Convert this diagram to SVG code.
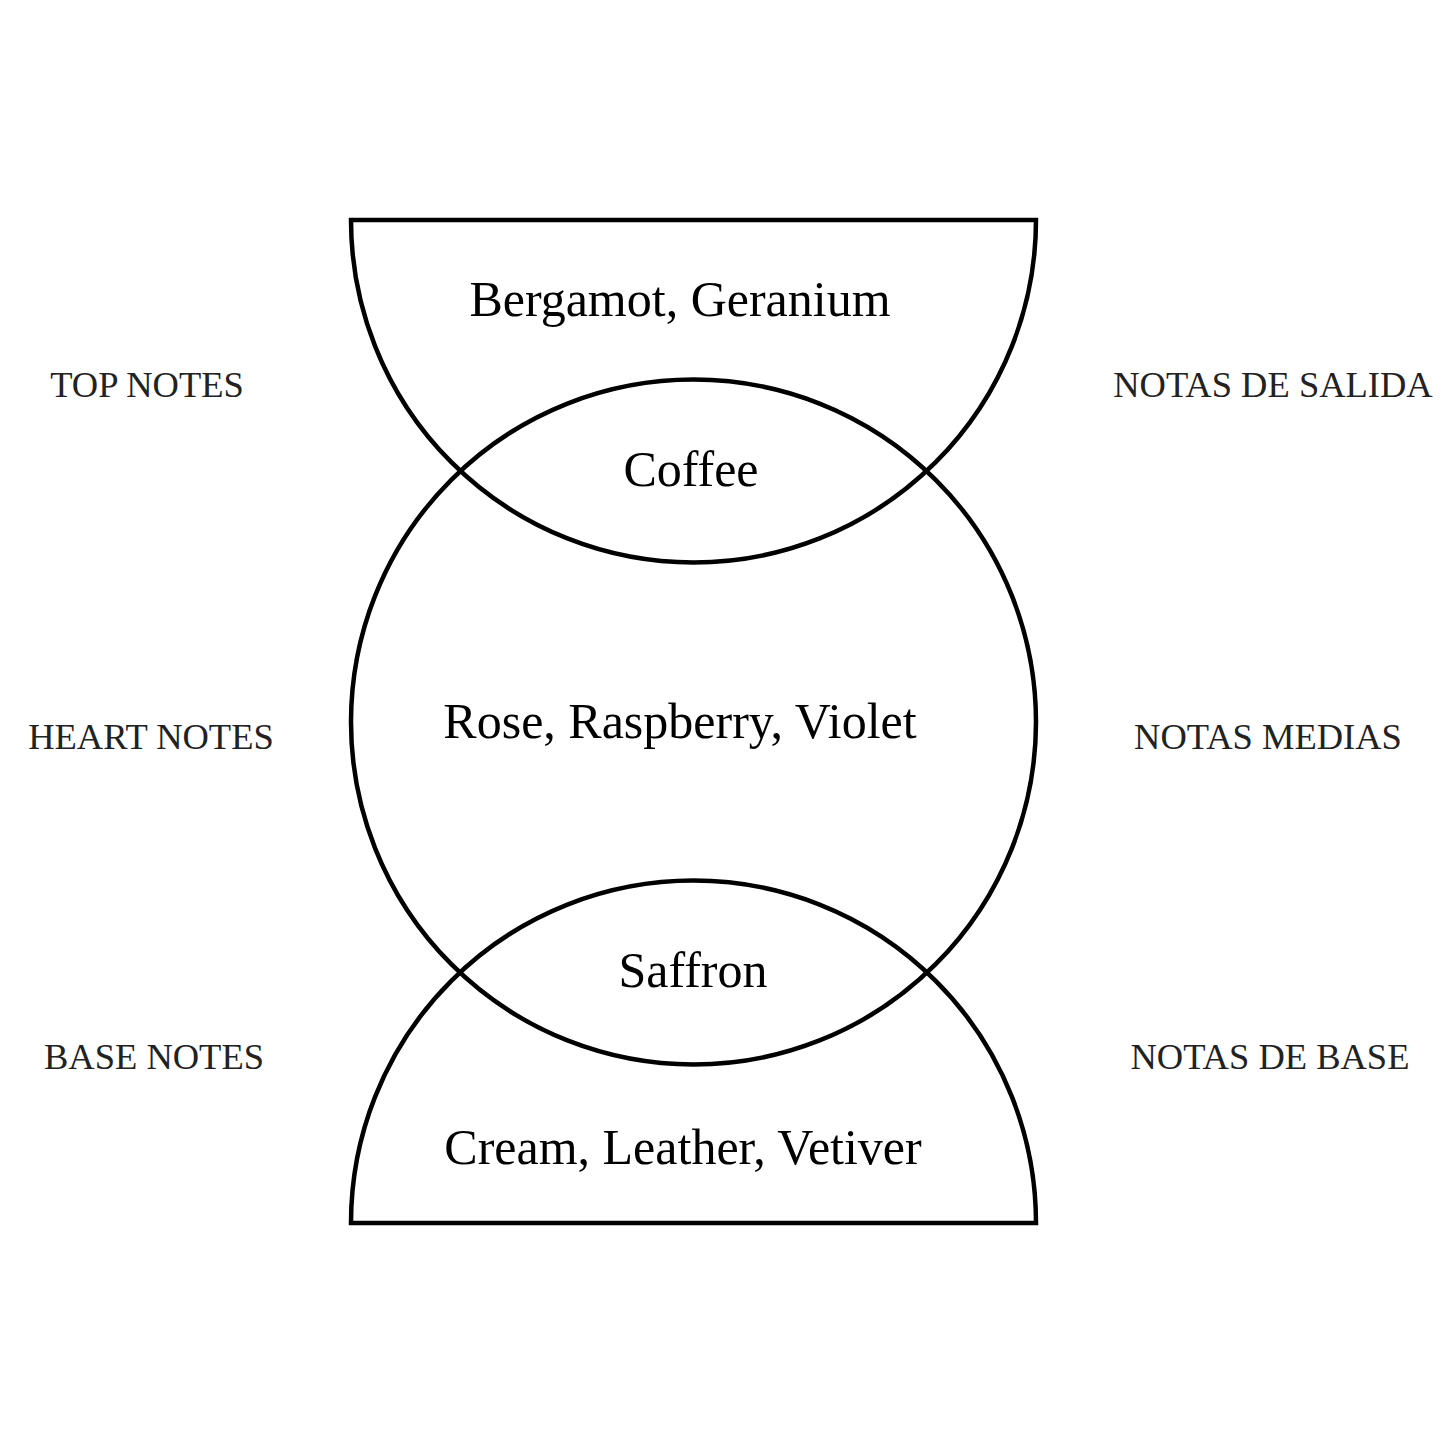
<svg xmlns="http://www.w3.org/2000/svg" width="1445" height="1445" viewBox="0 0 1445 1445">
<style>
.s{fill:none;stroke:#000;stroke-width:4.5}
.m{font-family:"Liberation Serif",serif;font-size:50px;fill:#000;text-anchor:middle}
.l{font-family:"Liberation Serif",serif;font-size:36.5px;fill:#222;text-anchor:middle}
</style>
<rect width="1445" height="1445" fill="#fff"/>
<g id="top"><path class="s" d="M351,220 H1036 A342.5,342.5 0 0 1 351,220 Z"/><text class="m" x="680" y="316">Bergamot, Geranium</text></g>
<g id="heart"><circle class="s" cx="693.5" cy="722" r="342.5"/><text class="m" x="680" y="738">Rose, Raspberry, Violet</text></g>
<g id="base"><path class="s" d="M351,1223 H1036 A342.5,342.5 0 0 0 351,1223 Z"/><text class="m" x="683" y="1164">Cream, Leather, Vetiver</text></g>
<g id="coffee"><text class="m" x="691" y="486">Coffee</text></g>
<g id="saffron"><text class="m" x="693" y="987">Saffron</text></g>
<g id="labels">
<text class="l" x="147" y="397">TOP NOTES</text>
<text class="l" x="151" y="749">HEART NOTES</text>
<text class="l" x="154" y="1069">BASE NOTES</text>
<text class="l" x="1273" y="397">NOTAS DE SALIDA</text>
<text class="l" x="1268" y="749">NOTAS MEDIAS</text>
<text class="l" x="1270" y="1069">NOTAS DE BASE</text>
</g>
<g id="connectors"></g>
</svg>
